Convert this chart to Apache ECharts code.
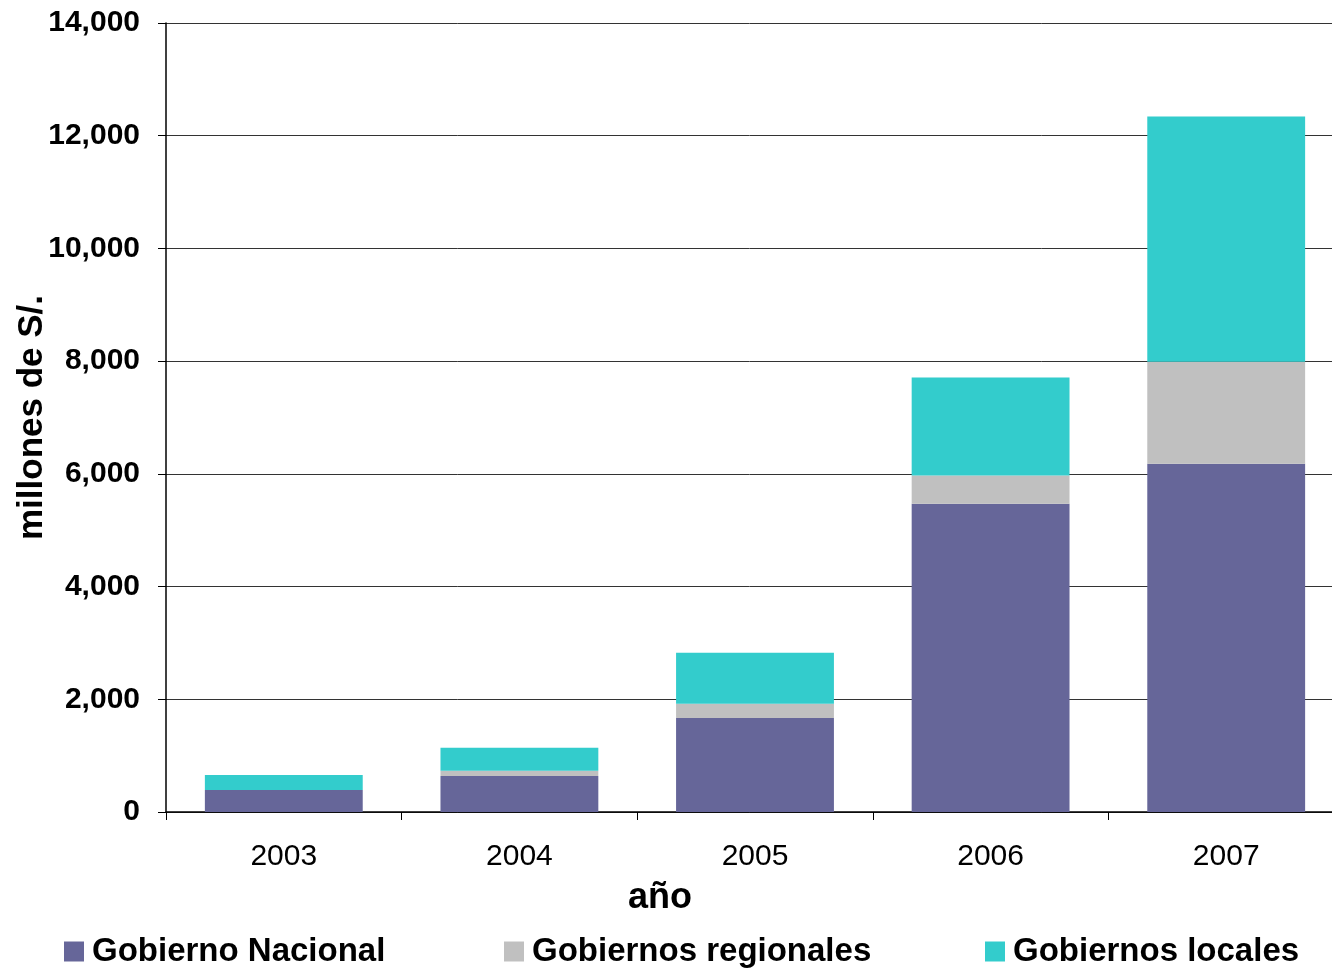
<!DOCTYPE html>
<html><head><meta charset="utf-8">
<script src="https://cdn.jsdelivr.net/npm/echarts@6/dist/echarts.min.js"></script>
<style>html,body{margin:0;padding:0;background:#fff}#c{width:1332px;height:969px}</style>
</head><body><div id="c"></div>
<script>
const years = ['2003','2004','2005','2006','2007'];
const nacional = [390, 640, 1670, 5470, 6180];
const regionales = [0, 90, 250, 500, 1810];
const locales = [265, 410, 905, 1740, 4350];
const yTicks = [0, 2000, 4000, 6000, 8000, 10000, 12000, 14000];
const seriesNames = ['Gobierno Nacional', 'Gobiernos regionales', 'Gobiernos locales'];
const colors = ['#666699', '#C0C0C0', '#33CCCC'];
const font = '"Liberation Sans", Arial, sans-serif';

const chart = echarts.init(document.getElementById('c'));
const legendCfg = (name, left) => ({
  data: [name], left: left, top: 930, itemWidth: 20, itemHeight: 20, itemGap: 0,
  icon: 'rect', textStyle: { fontFamily: font, fontSize: 33, fontWeight: 'bold', color: '#000', padding: [0,0,0,3] }
});
chart.setOption({
  animation: false,
  color: colors,
  grid: { left: 166, width: 1178, top: 23, height: 789, containLabel: false, outerBoundsMode: 'none' },
  legend: [legendCfg(seriesNames[0], 59), legendCfg(seriesNames[1], 499), legendCfg(seriesNames[2], 980)],
  graphic: [{ type: 'text', x: 660, y: 898, style: { text: 'año', font: 'bold 36px ' + font, fill: '#000', textAlign: 'center', textVerticalAlign: 'middle' } }],
  xAxis: {
    type: 'category', data: years,
    axisLine: { lineStyle: { color: '#000', width: 1.5 } },
    axisTick: { show: true, length: 8, lineStyle: { color: '#000' } },
    axisLabel: { fontFamily: font, fontSize: 30, color: '#000', margin: 30 }
  },
  yAxis: {
    type: 'value', min: yTicks[0], max: yTicks[yTicks.length - 1], interval: 2000,
    name: 'millones de S/.', nameLocation: 'middle', nameGap: 116, nameRotate: 90, nameMoveOverlap: false,
    nameTextStyle: { fontFamily: font, fontSize: 35, fontWeight: 'bold', color: '#000' },
    axisLine: { show: true, lineStyle: { color: '#000', width: 1.5 } },
    axisTick: { show: true, length: 8, lineStyle: { color: '#000' } },
    axisLabel: { fontFamily: font, fontSize: 30, fontWeight: 'bold', color: '#000', margin: 26,
      formatter: v => v.toLocaleString('en-US') },
    splitLine: { lineStyle: { color: '#333', width: 1 } }
  },
  series: [
    { name: seriesNames[0], type: 'bar', stack: 't', data: nacional, barCategoryGap: '33%' },
    { name: seriesNames[1], type: 'bar', stack: 't', data: regionales },
    { name: seriesNames[2], type: 'bar', stack: 't', data: locales }
  ]
});
</script></body></html>
